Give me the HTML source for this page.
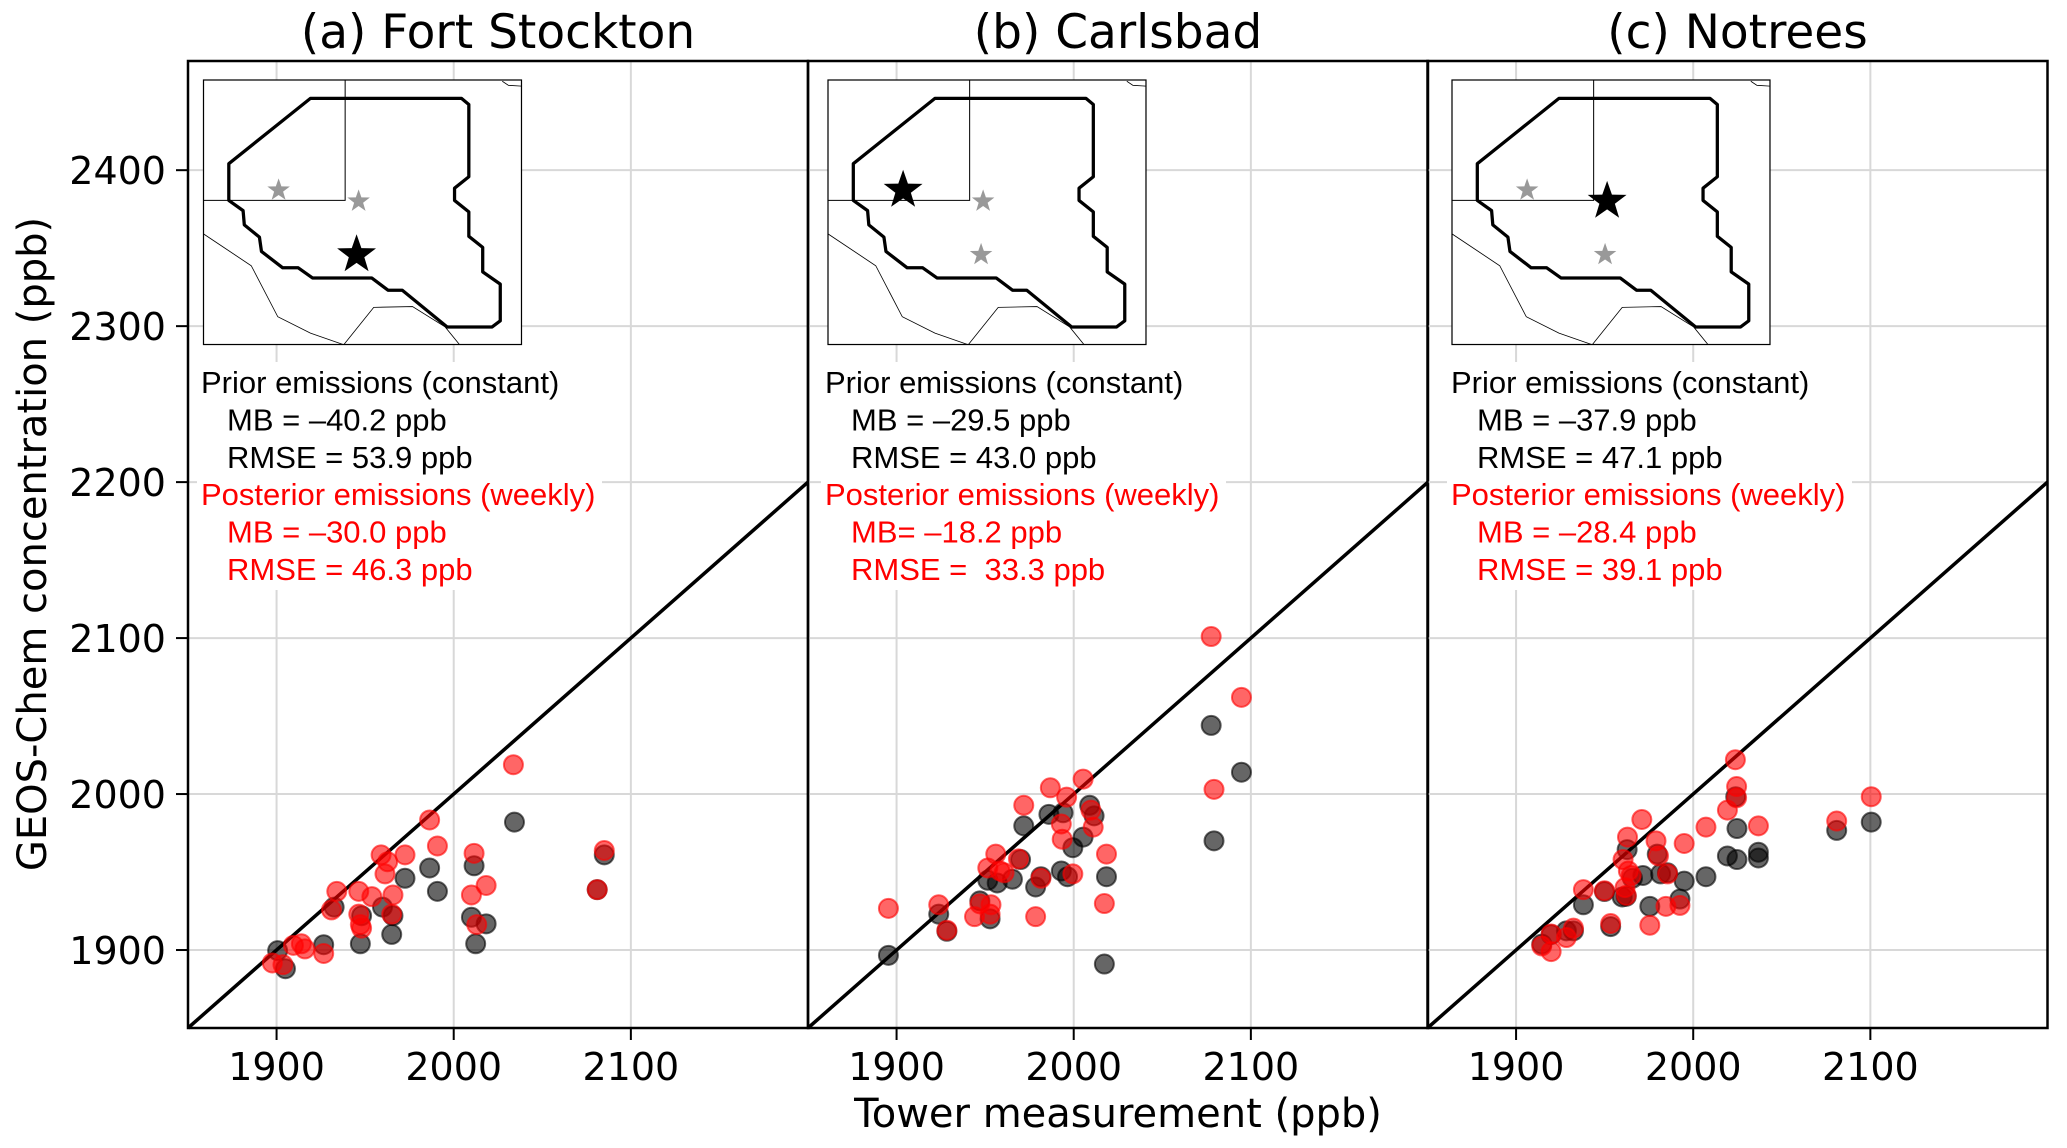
<!DOCTYPE html>
<html><head><meta charset="utf-8"><style>
html,body{margin:0;padding:0;background:#fff;}
svg{display:block;}
text{font-family:"DejaVu Sans","Liberation Sans",sans-serif;}
.ann{font-family:"Liberation Sans",Arial,sans-serif;font-size:31px;white-space:pre;}
</style></head><body>
<svg id="chart" width="2067" height="1148" viewBox="0 0 2067 1148" xmlns="http://www.w3.org/2000/svg"></svg>
<script>
const panelTitles = ["(a) Fort Stockton", "(b) Carlsbad", "(c) Notrees"];
const xTicks = [1900, 2000, 2100];
const yTicks = [1900, 2000, 2100, 2200, 2300, 2400];
const xDomain = [1850, 2200];
const yDomain = [1850, 2470];
const priorA = [[1900.6,1899.6],[1905,1888],[1926.6,1903.4],[1932.5,1927.5],[1947.3,1904],[1948,1922],[1959.8,1927.5],[1965,1910],[1972.5,1946],[1986.4,1952.6],[1990.8,1937.6],[2011.5,1954],[2010,1921],[2018.3,1916.8],[2012.4,1904],[2034.3,1982],[2085,1961],[2081,1938.7],[1965.7,1922]];
const postA = [[1897.6,1891.7],[1903.6,1890.6],[1909.5,1903],[1914,1904],[1916,1900.7],[1926.6,1897.8],[1931,1925.7],[1934,1937.6],[1946.4,1923],[1947.3,1916.3],[1948,1914],[1946.4,1937.6],[1953.8,1934.2],[1959,1961],[1962.7,1956.6],[1961.2,1948.8],[1965.7,1935.3],[1965,1923],[1972.5,1961],[1986.4,1983.4],[1990.8,1966.7],[2011.5,1962],[2010,1935.3],[2018.3,1941.4],[2013,1916.3],[2033.7,2018.8],[2085,1963.8],[2081,1938.7]];
const priorB = [[1895.4,1896.6],[1923.8,1923],[1928.4,1912],[1947,1931.5],[1952.8,1920],[1951.5,1944.7],[1956.8,1943],[1965.4,1945.4],[1970,1958],[1971.8,1979.6],[1978.5,1940.4],[1981.5,1947],[1986,1987],[1994,1988],[1993,1950.7],[1996.5,1947],[1999.5,1965.6],[2005.3,1972.4],[2009,1992.8],[2011.5,1986],[2018.5,1947],[2017.3,1891],[2077.6,2044],[2094.7,2014],[2079.2,1970]];
const postB = [[1895.4,1926.7],[1923.8,1929],[1928.4,1912.7],[1944,1921.4],[1947,1929.6],[1952.8,1923],[1953.3,1929],[1951.5,1952.6],[1956,1961.5],[1958.4,1950.7],[1960.7,1949.5],[1968.8,1958.4],[1971.8,1992.8],[1978.5,1921.4],[1981.5,1946],[1986.8,2004],[1993,1980.8],[1993.5,1971],[1996,1998],[1999.5,1948.8],[2005.3,2009.6],[2009.7,1989.7],[2011,1978.8],[2018.5,1961.5],[2017.3,1929.8],[2077.6,2101],[2094.7,2062],[2079.2,2003]];
const priorC = [[1914.5,1903.8],[1919.8,1909.9],[1928.4,1912.3],[1932.4,1912.3],[1938,1929],[1949.9,1937.5],[1953.4,1915],[1959.9,1934],[1962.2,1934.4],[1962.7,1964.4],[1965.7,1946],[1971.6,1947.8],[1975.5,1928],[1979.7,1961.5],[1981.6,1948.8],[1985.5,1949.5],[1992.5,1932.7],[1994.9,1944.2],[2007.2,1947],[2019.3,1960.3],[2024.7,1958],[2024.7,1977.9],[2024,1998.3],[2036.8,1962.7],[2036.8,1959],[2081,1976.7],[2100.5,1982]];
const postC = [[1914.5,1902.6],[1919.8,1899],[1919.8,1910.3],[1928.4,1908],[1932.4,1914],[1938,1938.7],[1949.9,1938],[1953.4,1917],[1960.4,1958],[1961.5,1940],[1962.2,1935],[1962.9,1972.4],[1963.4,1950.7],[1965,1947.8],[1971,1983.7],[1975.5,1915.9],[1979,1970],[1980.4,1960.3],[1984.6,1928],[1985.5,1948.8],[1992.5,1928.6],[1994.9,1968.3],[2007.2,1978.8],[2019.3,1989.7],[2023.8,2022],[2024.5,2004.8],[2024.5,1997.6],[2036.8,1979.6],[2081,1982.7],[2100.5,1998.3]];
const priorSeries = [priorA, priorB, priorC];
const postSeries = [postA, postB, postC];
const priorMB = ["MB = \u201340.2 ppb", "MB = \u201329.5 ppb", "MB = \u201337.9 ppb"];
const priorRMSE = ["RMSE = 53.9 ppb", "RMSE = 43.0 ppb", "RMSE = 47.1 ppb"];
const postMB = ["MB = \u201330.0 ppb", "MB= \u201318.2 ppb", "MB = \u201328.4 ppb"];
const postRMSE = ["RMSE = 46.3 ppb", "RMSE =  33.3 ppb", "RMSE = 39.1 ppb"];
const activeStar = [2, 0, 1];

const NS = "http://www.w3.org/2000/svg";
const svg = document.getElementById("chart");
const panelLeft = [188, 808, 1427.5];
const PW = 620, PT = 61, PB = 1028;
const insetLeft = [203.5, 828, 1452];
const textLeft = [201, 825, 1451];
const slug = ["fort-stockton", "carlsbad", "notrees"];

function mk(tag, attrs, parent) {
  const e = document.createElementNS(NS, tag);
  for (const k in attrs) e.setAttribute(k, attrs[k]);
  (parent || svg).appendChild(e);
  return e;
}
function starPts(cx, cy, R) {
  const r = R * 0.4; let p = [];
  for (let i = 0; i < 10; i++) {
    const a = -Math.PI / 2 + i * Math.PI / 5, rr = i % 2 ? r : R;
    p.push((cx + rr * Math.cos(a)).toFixed(1) + "," + (cy + rr * Math.sin(a)).toFixed(1));
  }
  return p.join(" ");
}

for (let p = 0; p < 3; p++) {
  const L = panelLeft[p];
  const xs = v => L + (v - xDomain[0]) / (xDomain[1] - xDomain[0]) * PW;
  const ys = v => PB - (v - yDomain[0]) / (yDomain[1] - yDomain[0]) * (PB - PT);
  const g = mk("g", {});
  
  

  for (const t of xTicks) {
    const l = mk("line", {x1: xs(t), x2: xs(t), y1: PT, y2: PB, stroke: "#d8d8d8", "stroke-width": 2}, g);
    
    
  }
  for (const t of yTicks) {
    const l = mk("line", {x1: L, x2: L + PW, y1: ys(t), y2: ys(t), stroke: "#d8d8d8", "stroke-width": 2}, g);
    
    
  }
  const d = mk("line", {x1: xs(1850), y1: ys(1850), x2: xs(2200), y2: ys(2200), stroke: "#000", "stroke-width": 3.5}, g);
  
  

  for (const pt of priorSeries[p]) {
    const c = mk("circle", {cx: xs(pt[0]), cy: ys(pt[1]), r: 9.5, fill: "rgba(0,0,0,0.6)", stroke: "rgba(0,0,0,0.6)", "stroke-width": 2}, g);
    
    
  }
  for (const pt of postSeries[p]) {
    const c = mk("circle", {cx: xs(pt[0]), cy: ys(pt[1]), r: 9.5, fill: "rgba(255,0,0,0.6)", stroke: "rgba(255,0,0,0.6)", "stroke-width": 2}, g);
    
    
  }

  const ig = mk("g", {transform: "translate(" + insetLeft[p] + ",80) scale(0.4082)"}, g);
  
  
  mk("rect", {x: 0, y: 0, width: 779, height: 648, fill: "#fff", stroke: "#000", "stroke-width": 3}, ig);
  mk("polyline", {points: "347,0 347,295 0,295", fill: "none", stroke: "#000", "stroke-width": 2.5}, ig);
  mk("polyline", {points: "0,377 117,455 182,580 262,620 342,648", fill: "none", stroke: "#000", "stroke-width": 2}, ig);
  mk("polyline", {points: "344,648 417,557 512,555 592,605 627,648", fill: "none", stroke: "#000", "stroke-width": 2}, ig);
  mk("polyline", {points: "732,3 747,13 779,15", fill: "none", stroke: "#000", "stroke-width": 2}, ig);
  mk("polygon", {points: "262,45 632,45 650,60 650,237 615,265 615,295 650,323 650,383 684,410 684,470 727,500 727,590 707,605 597,605 487,515 452,515 412,485 267,485 232,460 194,460 142,420 137,385 100,355 97,320 62,295 62,205", fill: "none", stroke: "#000", "stroke-width": 8, "stroke-linejoin": "round"}, ig);
  const starPos = [[184, 270], [380, 297], [375, 428]];
  for (let s = 0; s < 3; s++) {
    const act = s === activeStar[p];
    const st = mk("polygon", {points: starPts(starPos[s][0], starPos[s][1], act ? 50 : 29), fill: act ? "#000" : "#999"}, ig);
    
    
  }

  const tl = textLeft[p];
  mk("rect", {x: tl - 4, y: 362, width: 405, height: 228, fill: "#fff"}, g);
  const lines = [["Prior emissions (constant)", 0, "#000"], [priorMB[p], 26, "#000"], [priorRMSE[p], 26, "#000"],
                 ["Posterior emissions (weekly)", 0, "#f00"], [postMB[p], 26, "#f00"], [postRMSE[p], 26, "#f00"]];
  const lineNames = ["prior-label", "prior-mb", "prior-rmse", "posterior-label", "posterior-mb", "posterior-rmse"];
  lines.forEach((ln, i) => {
    const t = mk("text", {x: tl + ln[1], y: 393 + i * 37.4, fill: ln[2], "class": "ann"}, g);
    t.textContent = ln[0];
    
    
  });

  const fr = mk("rect", {x: L, y: PT, width: PW, height: PB - PT, fill: "none", stroke: "#000", "stroke-width": 2.5}, g);
  
  

  for (const t of xTicks) {
    mk("line", {x1: xs(t), x2: xs(t), y1: PB, y2: PB + 12, stroke: "#000", "stroke-width": 2}, g);
    const tx = mk("text", {x: xs(t), y: 1080, "font-size": 38, "text-anchor": "middle"}, g);
    tx.textContent = t;
    
    
  }
  if (p === 0) {
    for (const t of yTicks) {
      mk("line", {x1: L - 12, x2: L, y1: ys(t), y2: ys(t), stroke: "#000", "stroke-width": 2}, g);
      const ty = mk("text", {x: 166, y: ys(t) + 14, "font-size": 38, "text-anchor": "end"}, g);
      ty.textContent = t;
      
      
    }
  }
  const ti = mk("text", {x: L + PW / 2, y: 48, "font-size": 47, "text-anchor": "middle"}, g);
  ti.textContent = panelTitles[p];
  
  
}
const xl = mk("text", {x: 1118, y: 1127, "font-size": 40, "text-anchor": "middle"});
xl.textContent = "Tower measurement (ppb)";


const yl = mk("text", {x: 0, y: 0, "font-size": 40, "text-anchor": "middle", transform: "translate(46,544) rotate(-90)"});
yl.textContent = "GEOS-Chem concentration (ppb)";


</script>
</body></html>
